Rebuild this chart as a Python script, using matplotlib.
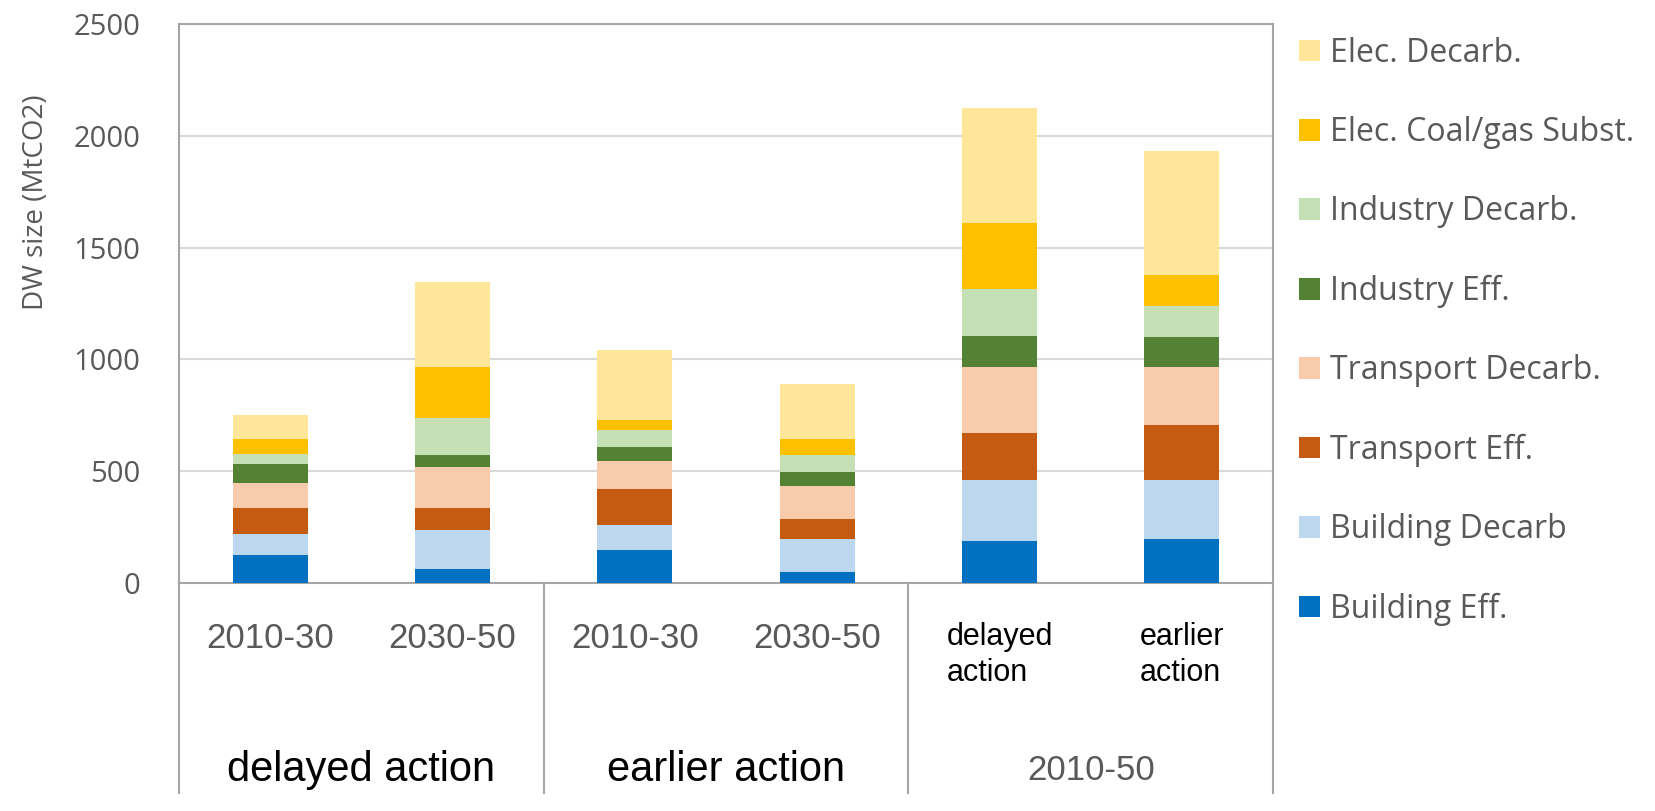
import matplotlib.pyplot as plt
import matplotlib.transforms as mtransforms
from matplotlib import font_manager
from matplotlib.patches import Patch

# Decarbonisation wedge sizes (MtCO2), stacked bottom to top
periods = ['2010-30', '2030-50', '2010-30', '2030-50', 'delayed\naction', 'earlier\naction']
groups = ['delayed action', 'earlier action', '2010-50']

building_eff = [127, 64, 149, 49, 187, 199]
building_decarb = [94, 172, 112, 149, 273, 261]
transport_eff = [115, 100, 161, 87, 209, 246]
transport_decarb = [109, 183, 123, 149, 298, 261]
industry_eff = [89, 52, 64, 63, 137, 134]
industry_decarb = [45, 165, 74, 74, 209, 138]
elec_coal_gas = [64, 231, 48, 75, 296, 139]
elec_decarb = [110, 380, 310, 246, 515, 555]

series = [
    ('Building Eff.', building_eff, '#0070C0'),
    ('Building Decarb', building_decarb, '#BDD7EE'),
    ('Transport Eff.', transport_eff, '#C55A11'),
    ('Transport Decarb.', transport_decarb, '#F8CBAD'),
    ('Industry Eff.', industry_eff, '#548235'),
    ('Industry Decarb.', industry_decarb, '#C5E0B4'),
    ('Elec. Coal/gas Subst.', elec_coal_gas, '#FFC000'),
    ('Elec. Decarb.', elec_decarb, '#FFE699'),
]

installed = {f.name for f in font_manager.fontManager.ttflist}
narrow = 'Liberation Sans Narrow' if 'Liberation Sans Narrow' in installed else 'Liberation Sans'
plt.rcParams['font.family'] = ['Open Sans', 'DejaVu Sans']

grey = '#595959'
frame = '#A6A6A6'

fig = plt.figure(figsize=(16.56, 8.11), dpi=100)
ax = fig.add_axes([179 / 1656, 1 - 583 / 811, (1273 - 179) / 1656, (583 - 24) / 811])

x = list(range(len(periods)))
bottom = [0] * len(periods)
for name, vals, col in series:
    ax.bar(x, vals, width=0.41, bottom=bottom, color=col, label=name, zorder=3)
    bottom = [b + v for b, v in zip(bottom, vals)]

ax.set_xlim(-0.5, len(periods) - 0.5)
ax.set_ylim(0, 2500)
ax.set_yticks(range(0, 2501, 500))
ax.yaxis.grid(True, color='#D9D9D9', linewidth=1.5, zorder=0)
ax.tick_params(axis='y', length=0, pad=28, labelsize=21, labelcolor=grey)
for s in ax.spines.values():
    s.set_color(frame)
    s.set_linewidth(1.5)

# period labels under each bar
ax.set_xticks(x)
ax.set_xticklabels(periods)
ax.tick_params(axis='x', length=0, pad=28)
for i, lab in enumerate(ax.get_xticklabels()):
    lab.set_family(narrow)
    lab.set_verticalalignment('top')
    if i < 4:
        lab.set_color(grey)
        lab.set_fontsize(25)
    else:
        lab.set_color('black')
        lab.set_fontsize(22)
        lab.set_multialignment('left')
        lab.set_linespacing(1.25)

# group separators and group names
trans = mtransforms.blended_transform_factory(ax.transData, ax.transAxes)
for xs in [-0.5, 1.5, 3.5, 5.5]:
    ax.plot([xs, xs], [0, -0.376], transform=trans, color=frame, lw=1.5, clip_on=False)
group_styles = [(30, 'black'), (30, 'black'), (25, grey)]
for gi, (g, (fs, col)) in enumerate(zip(groups, group_styles)):
    ax.text(2 * gi + 0.5, -0.335, g, transform=trans, ha='center', va='center',
            fontsize=fs, color=col, family=narrow)

fig.text(36 / 1656, 1 - 202 / 811, 'DW size (MtCO2)', rotation=90, ha='center', va='center',
         fontsize=20, color=grey)

handles = [Patch(facecolor=col, label=name) for name, vals, col in series[::-1]]
fig.legend(handles=handles, loc='upper left', bbox_to_anchor=(1286 / 1656, 1 - 24 / 811),
           frameon=False, fontsize=23, labelcolor=grey, handlelength=0.66, handleheight=0.66,
           handletextpad=0.32, labelspacing=1.45, borderaxespad=0)

fig.savefig('out.png', dpi=100)
